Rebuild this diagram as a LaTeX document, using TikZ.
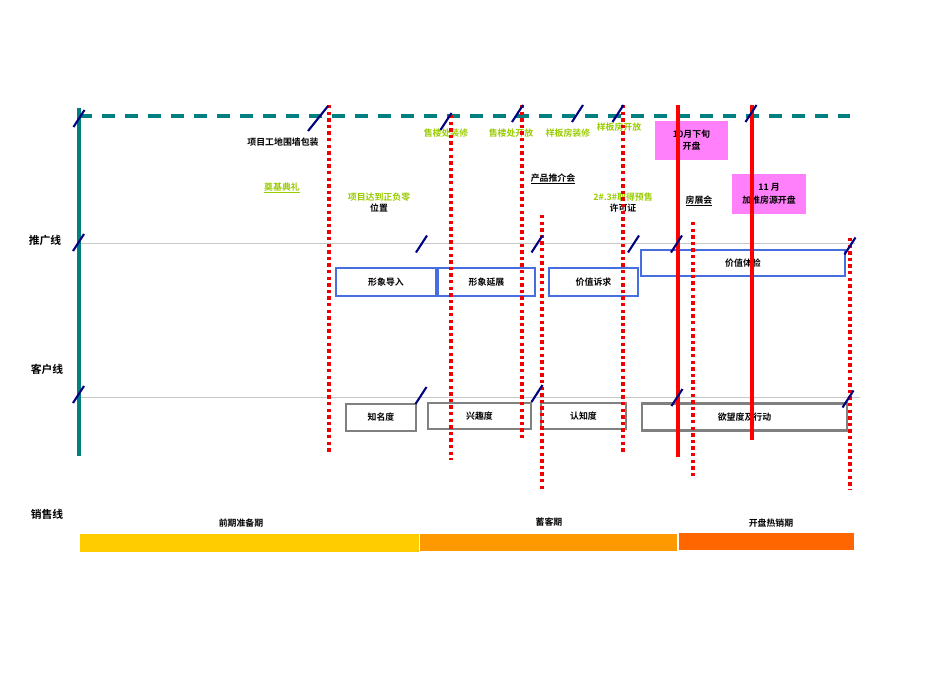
\documentclass[tikz,border=0pt]{standalone}
\usepackage{fontspec}
\setmainfont{Noto Sans CJK SC}[BoldFont={Noto Sans CJK SC Bold}]
\usetikzlibrary{positioning}

\definecolor{axisteal}{RGB}{0,128,128}
\definecolor{slashnavy}{RGB}{0,0,128}
\definecolor{planblue}{RGB}{70,110,225}
\definecolor{custgray}{RGB}{128,128,128}
\definecolor{eventgreen}{RGB}{153,204,0}
\definecolor{salepink}{RGB}{255,128,250}
\definecolor{phaseA}{RGB}{255,204,0}
\definecolor{phaseB}{RGB}{255,153,0}
\definecolor{phaseC}{RGB}{255,102,0}

\tikzstyle{every node}=[font=\bfseries\fontsize{8.9}{12.5}\selectfont,inner sep=0pt,align=center]
\tikzstyle{axis}=[draw=axisteal,line width=3.2pt]
\tikzstyle{axisdash}=[draw=axisteal,line width=3.2pt,dash pattern=on 13pt off 10pt]
\tikzstyle{laneline}=[draw=black!22,line width=0.9pt]
\tikzstyle{milestone}=[draw=red!95!black,line width=3.2pt,dash pattern=on 3.3pt off 3.3pt]
\tikzstyle{opening}=[draw=red,line width=3.8pt]
\tikzstyle{tick}=[draw=slashnavy,line width=2.1pt]
\tikzstyle{planbox}=[draw=planblue,line width=2.5pt,minimum height=28pt]
\tikzstyle{custbox}=[draw=custgray,line width=2.5pt,minimum height=27pt]
\tikzstyle{salebox}=[fill=salepink]
\tikzstyle{event}=[text=eventgreen]
\tikzstyle{lane}=[font=\bfseries\fontsize{10.8}{12}\selectfont]

\begin{document}
\begin{tikzpicture}[x=1pt,y=-1pt]
  \useasboundingbox (0,0) rectangle (950,672);

  % lanes
  \node[lane] (promo) at (45,240) {推广线};
  \node[lane] (cust) at (47,369) {客户线};
  \node[lane] (sales) at (47,514) {销售线};
  \coordinate (promoL) at (79,243); \coordinate (promoR) at (855,243);
  \coordinate (custL) at (79,397); \coordinate (custR) at (860,397);
  \draw[laneline] (promoL) -- (promoR);
  \draw[laneline] (custL) -- (custR);

  % time axis
  \coordinate (axtop) at (79,108); \coordinate (axbot) at (79,456);
  \coordinate (dashL) at (79,116); \coordinate (dashR) at (850,116);
  \draw[axis] (axtop) -- (axbot);
  \draw[axisdash] (dashL) -- (dashR);

  % sales phases
  \node[fill=phaseA,minimum width=339pt,minimum height=18pt] (prep) at (249.5,543) {};
  \node[fill=phaseB,minimum width=257pt,minimum height=17pt] (store) at (548.5,542.5) {};
  \node[fill=phaseC,minimum width=175pt,minimum height=17pt] (hot) at (766.5,541.5) {};
  \node (prepT) at (241,523) {前期准备期};
  \node (storeT) at (549,522) {蓄客期};
  \node (hotT) at (771,523) {开盘热销期};

  % opening dates
  \node[salebox,minimum width=73pt,minimum height=39pt] (oct) at (691.5,140) {10月下旬\\开盘};
  \node[salebox,minimum width=74pt,minimum height=40pt] (nov) at (769,194) {11 月\\加推房源开盘};

  % promotion line
  \node[planbox,minimum width=100pt] (p1) at (386,282) {形象导入};
  \node[planbox,minimum width=97pt] (p2) at (486.5,282) {形象延展};
  \node[planbox,minimum width=89pt] (p3) at (593.5,282) {价值诉求};
  \node[planbox,minimum width=204pt,minimum height=26pt] (p4) at (743,263) {价值体验};

  % customer line
  \node[custbox,minimum width=70pt] (c1) at (381,417.5) {知名度};
  \node[custbox,minimum width=103pt,minimum height=26pt] (c2) at (479.5,416) {兴趣度};
  \node[custbox,minimum width=85pt,minimum height=26pt] (c3) at (583.5,416) {认知度};
  \node[custbox,minimum width=205pt] (c4) at (744.5,417) {欲望度及行动};

  % events
  \node (wall) at (283,142) {项目工地围墙包装};
  \node[event] (found) at (282,188) {\underline{奠基典礼}};
  \node[event] (zero) at (379,197) {项目达到正负零};
  \node (zero2) at (379,208) {位置};
  \node[event] (e1) at (446,133) {售楼处装修};
  \node[event] (e2) at (511,133) {售楼处开放};
  \node[event] (e3) at (568,133) {样板房装修};
  \node[event] (e4) at (619,127) {样板房开放};
  \node (launch) at (553,179) {\underline{产品推介会}};
  \node[event] (permit) at (623,197) {2\#.3\#取得预售};
  \node (permit2) at (623,208) {许可证};
  \node (fair) at (699,201) {\underline{房展会}};

  % milestones
  \foreach \x/\a/\b in {329/105/452,451/115/460,522/105/440,542/215/492,623/105/453,693/222/476,850/238/490}{
    \coordinate (m\x a) at (\x,\a); \coordinate (m\x b) at (\x,\b);
    \draw[milestone] (m\x a) -- (m\x b);
  }
  \foreach \x/\a/\b in {678/105/457,752/105/440}{
    \coordinate (o\x a) at (\x,\a); \coordinate (o\x b) at (\x,\b);
    \draw[opening] (o\x a) -- (o\x b);
  }

  % ticks
  \draw[tick] (308,131) -- (328,106);
  \foreach \x/\y in {79/118.5,446/121.5,517.5/113.5,577.5/113.5,618/113.5,751/113.5,
                     78.5/242.5,421.5/244,537/244,633.5/244,676.5/244,850/246,
                     78.5/394.5,421/395.5,537/393.5,677/397.5,848/399}
    \draw[tick] (\x-5.5,\y+8.5) -- (\x+5.5,\y-8.5);
\end{tikzpicture}
\end{document}
